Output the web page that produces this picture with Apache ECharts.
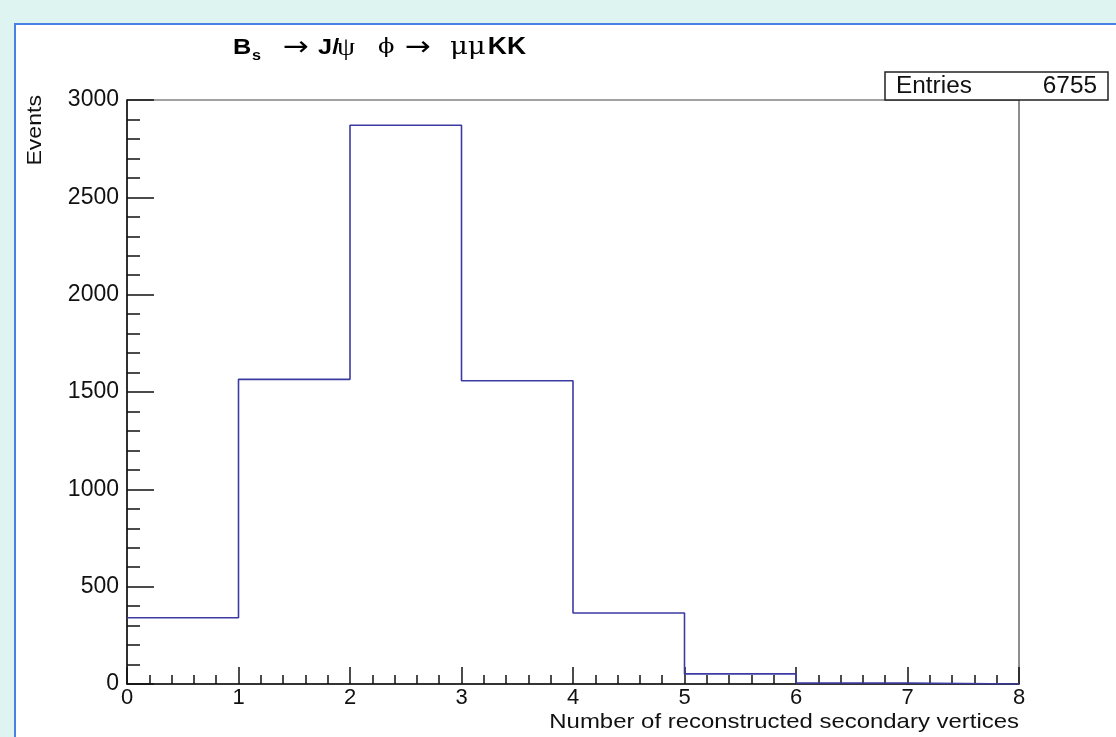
<!DOCTYPE html>
<html>
<head>
<meta charset="utf-8">
<script src="https://cdn.jsdelivr.net/npm/echarts@6/dist/echarts.min.js"></script>
<style>
	html, body { margin: 0; padding: 0; background: #ddf4f0; }
	#chart { width: 1116px; height: 737px; }
</style>
</head>
<body>
<div id="chart"></div>
<script>
// bin low edges and counts
var binEdges = [0, 1, 2, 3, 4, 5, 6, 7];
var binCounts = [340, 1565, 2870, 1558, 365, 52, 5, 0];
var xRange = [0, 8];
var yRange = [0, 3000];
var entries = 6755;

var sans = '"Liberation Sans", Arial, Helvetica, sans-serif';
var serif = '"Liberation Serif", "DejaVu Serif", serif';
var greek = '"DejaVu Serif", serif';
var arrowFont = '"DejaVu Sans", sans-serif';

// step points: each bin drawn flat from its low edge to the next one
var steps = binEdges.map(function (e, i) { return [e, binCounts[i]]; });
steps.push([xRange[1], binCounts[binCounts.length - 1]]);

var chart = echarts.init(document.getElementById('chart'));
var option = {
	backgroundColor: 'transparent',
	animation: false,
	graphic: [
		{
			type: 'rect', z: -10, silent: true,
			shape: { x: 15, y: 24, width: 1120, height: 730 },
			style: { fill: '#fff', stroke: '#4a80e6', lineWidth: 2 }
		},
		{
			// title, slightly stretched like the original
			type: 'text', z: 10,
			x: 233, y: 48, scaleX: 1.15,
			style: {
				text: '{b1|B}{sub|s}{ar1|\u2192}{jj|J/}{psi|\u03c8}{phi|\u03d5}{ar2|\u2192}{mu|\u03bc\u03bc}{kk|KK}',
				align: 'left', verticalAlign: 'middle',
				rich: {
					b1: { fontFamily: sans, fontWeight: 'bold', fontSize: 22, fill: '#000', width: 16.5 },
					sub: { fontFamily: sans, fontWeight: 'bold', fontSize: 14, fill: '#000', width: 27, verticalAlign: 'top', padding: [16, 0, 0, 0] },
					ar1: { fontFamily: arrowFont, fontSize: 27, fill: '#000', width: 30.5 },
					jj: { fontFamily: sans, fontWeight: 'bold', fontSize: 22, fill: '#000', width: 16.4 },
					psi: { fontFamily: serif, fontSize: 25, fill: '#000', width: 35.6 },
					phi: { fontFamily: greek, fontSize: 21, fill: '#000', width: 23.6 },
					ar2: { fontFamily: arrowFont, fontSize: 27, fill: '#000', width: 39 },
					mu: { fontFamily: greek, fontSize: 24, fill: '#000', width: 33 },
					kk: { fontFamily: sans, fontWeight: 'bold', fontSize: 23, fill: '#000' }
				}
			}
		},
		{
			type: 'text', z: 10,
			x: 35, y: 95, rotation: Math.PI / 2, scaleX: 1.1,
			style: { text: 'Events', font: '21px ' + sans, fill: '#111', align: 'right', verticalAlign: 'middle' }
		},
		{
			type: 'text', z: 10,
			x: 1019, y: 722, scaleX: 1.14,
			style: { text: 'Number of reconstructed secondary vertices', font: '21px ' + sans, fill: '#111', align: 'right', verticalAlign: 'middle' }
		},
		{
			type: 'rect', z: 20,
			shape: { x: 885, y: 72, width: 223, height: 28 },
			style: { fill: '#fff', stroke: '#222', lineWidth: 1.5 }
		},
		{
			type: 'text', z: 21, x: 896, y: 87, scaleX: 1.06,
			style: { text: 'Entries', font: '23px ' + sans, fill: '#111', align: 'left', verticalAlign: 'middle' }
		},
		{
			type: 'text', z: 21, x: 1097, y: 87, scaleX: 1.06,
			style: { text: String(entries), font: '23px ' + sans, fill: '#111', align: 'right', verticalAlign: 'middle' }
		}
	],
	grid: {
		left: 127, right: 97, top: 100, bottom: 53,
		show: true, borderColor: '#444', borderWidth: 1.2, backgroundColor: '#fff'
	},
	xAxis: {
		type: 'value',
		min: xRange[0], max: xRange[1], interval: 1,
		axisLine: { show: true, onZero: false, lineStyle: { color: '#111', width: 1.5 } },
		axisTick: { show: true, inside: true, length: 17, lineStyle: { color: '#111', width: 1.5 } },
		minorTick: { show: true, splitNumber: 5, length: 9, lineStyle: { color: '#111', width: 1.5 } },
		axisLabel: { fontFamily: sans, fontSize: 22, color: '#111', margin: 3 },
		splitLine: { show: false }
	},
	yAxis: {
		type: 'value',
		min: yRange[0], max: yRange[1], interval: 500,
		axisLine: { show: true, lineStyle: { color: '#111', width: 1.5 } },
		axisTick: { show: true, inside: true, length: 27, lineStyle: { color: '#111', width: 1.5 } },
		minorTick: { show: true, splitNumber: 5, length: 13, lineStyle: { color: '#111', width: 1.5 } },
		axisLabel: {
			fontFamily: sans, fontSize: 23, color: '#111', margin: 8,
			formatter: function (v) { return String(v); }
		},
		splitLine: { show: false }
	},
	series: [
		{
			type: 'line',
			step: 'end',
			showSymbol: false,
			data: steps,
			lineStyle: { color: '#3b3ba3', width: 1.6 },
			z: 5
		}
	]
};
chart.setOption(option);
window.addEventListener('resize', function () { chart.resize(); });
</script>
</body>
</html>
